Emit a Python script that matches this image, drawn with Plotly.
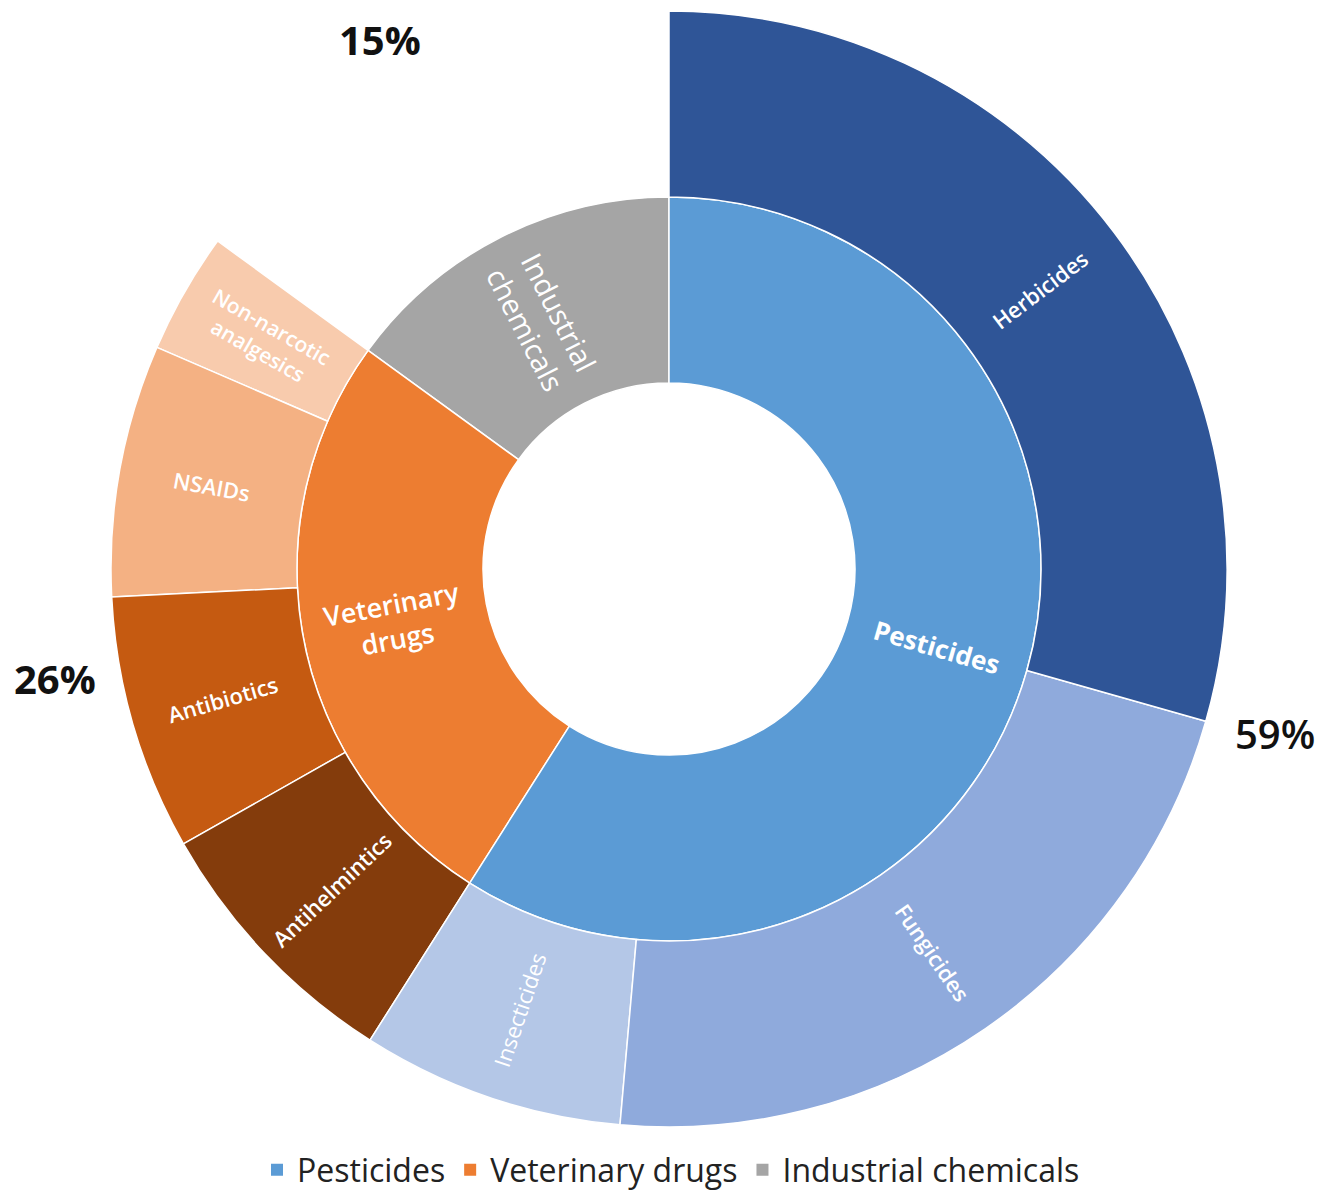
import math
import plotly.graph_objects as go

# ---- data ----
groups = ["Pesticides", "Veterinary drugs", "Industrial chemicals"]
group_values = [59, 26, 15]
group_colors = ["#5B9BD5", "#ED7D31", "#A5A5A5"]
group_labels = ["Pesticides", "Veterinary<br>drugs", "Industrial<br>chemicals"]

sub_names = ["Herbicides", "Fungicides", "Insecticides",
             "Antihelmintics", "Antibiotics", "NSAIDs", "Non-narcotic analgesics"]
sub_parents = ["Pesticides", "Pesticides", "Pesticides",
               "Veterinary drugs", "Veterinary drugs", "Veterinary drugs", "Veterinary drugs"]
sub_values = [29.4, 22.0, 7.6, 7.8, 7.4, 7.3, 3.5]
sub_colors = ["#2F5597", "#8FAADC", "#B4C7E7", "#843C0C", "#C55A11", "#F4B183", "#F8CBAD"]
sub_labels = ["Herbicides", "Fungicides", "Insecticides",
              "Antihelmintics", "Antibiotics", "NSAIDs", "Non-narcotic<br>analgesics"]

# ---- geometry of the sunburst (figure pixels) ----
W, H = 1326, 1192
OFF = 8                      # page body margin in the browser
CX, CY, R = 669 - OFF, 569 - OFF, 558

def paper(px, py):
    return px / W, 1 - py / H

# sunburst lays sectors counterclockwise -> reverse to get clockwise order
ids, labels, parents, values, colors = ["root"], [""], [""], [100], ["white"]
for g, v, c in reversed(list(zip(groups, group_values, group_colors))):
    ids.append(g); labels.append(g); parents.append("root"); values.append(v); colors.append(c)
    kids = [(n, sv, sc) for n, p, sv, sc in zip(sub_names, sub_parents, sub_values, sub_colors) if p == g]
    for n, sv, sc in reversed(kids):
        ids.append(n); labels.append(n); parents.append(g); values.append(sv); colors.append(sc)

fig = go.Figure()
fig.add_trace(go.Sunburst(
    ids=ids, labels=labels, parents=parents, values=values,
    branchvalues="total", sort=False, rotation=90,
    marker=dict(colors=colors, line=dict(color="white", width=1.5)),
    leaf=dict(opacity=1),
    textinfo="none",
    domain=dict(x=[(CX - R) / W, (CX + R) / W], y=[1 - (CY + R) / H, 1 - (CY - R) / H]),
    hoverinfo="label+value",
))

# ---- sector labels (radial orientation, placed at sector mid-angle) ----
def add_label(text, start, span, ring, size, weight):
    mid = start + span / 2.0                       # degrees clockwise from 12 o'clock
    rr = R * (ring + 0.5) / 3.0
    px = CX + rr * math.sin(math.radians(mid))
    py = CY - rr * math.cos(math.radians(mid))
    ang = mid - 90 if mid <= 180 else mid - 270
    x, y = paper(px, py)
    fig.add_annotation(x=x, y=y, xref="paper", yref="paper", text=text, showarrow=False,
                       textangle=ang, xanchor="center", yanchor="middle",
                       font=dict(family="Open Sans", size=size, color="white", weight=weight))

g_sizes = {"Pesticides": 26, "Veterinary drugs": 27, "Industrial chemicals": 29}
g_weights = {"Pesticides": "bold", "Veterinary drugs": 600, "Industrial chemicals": "normal"}
sub_sizes = [22, 22, 22, 22, 22, 22, 21]
sub_weights = [600, 600, 500, 600, 600, 600, 600]

start = 0.0
for g, v, lab in zip(groups, group_values, group_labels):
    add_label(lab, start * 3.6, v * 3.6, 1, g_sizes[g], g_weights[g])
    s2 = start
    for n, p, sv, sl, fs, fw in zip(sub_names, sub_parents, sub_values, sub_labels, sub_sizes, sub_weights):
        if p == g:
            add_label(sl, s2 * 3.6, sv * 3.6, 2, fs, fw)
            s2 += sv
    start += v

# legend entries
for g, c in zip(groups, group_colors):
    fig.add_trace(go.Scatter(x=[None], y=[None], mode="markers", name=g,
                             marker=dict(symbol="square", size=15, color=c)))

# percentage annotations
pct_pos = {"Industrial chemicals": (380, 40), "Veterinary drugs": (55, 678), "Pesticides": (1275, 733)}
pct_weight = {"Industrial chemicals": "bold", "Veterinary drugs": "bold", "Pesticides": 600}
for g, v in zip(groups, group_values):
    px, py = pct_pos[g]
    x, y = paper(px - OFF, py - OFF)
    fig.add_annotation(x=x, y=y, xref="paper", yref="paper", xanchor="center", yanchor="middle",
                       text=f"{v}%", showarrow=False,
                       font=dict(family="Open Sans", size=40, color="#111111", weight=pct_weight[g]))

lx, ly = paper(671 - OFF, 1170 - OFF)
fig.update_layout(
    width=W, height=H,
    margin=dict(l=0, r=0, t=0, b=0),
    paper_bgcolor="white", plot_bgcolor="white",
    xaxis=dict(visible=False), yaxis=dict(visible=False),
    showlegend=True,
    legend=dict(orientation="h", x=lx, xanchor="center", y=ly, yanchor="middle",
                font=dict(family="Open Sans", size=32, color="#222222"),
                itemsizing="constant", itemwidth=30, tracegroupgap=0,
                bgcolor="rgba(0,0,0,0)"),
)

fig.write_html("out.html")
